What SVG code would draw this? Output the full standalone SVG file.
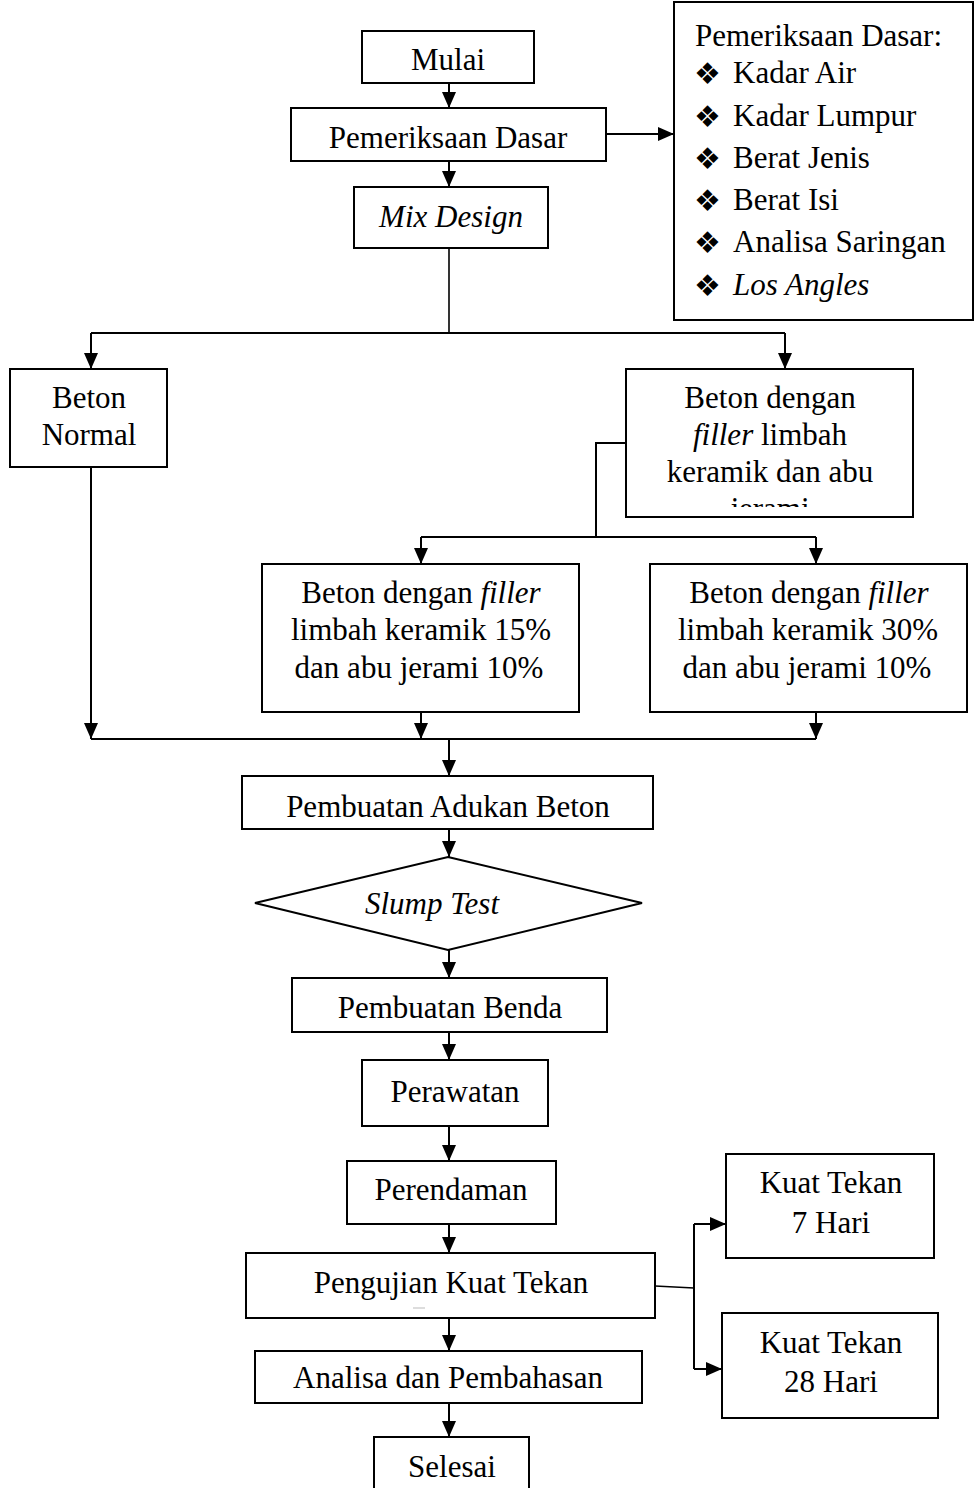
<svg xmlns="http://www.w3.org/2000/svg" width="974" height="1488" viewBox="0 0 974 1488">
<style>
.b{fill:#fff;stroke:#000;stroke-width:2}
.t{font-family:"Liberation Serif","Times New Roman",serif;font-size:31px;fill:#000;text-anchor:middle}
.l{font-family:"Liberation Serif","Times New Roman",serif;font-size:31px;fill:#000}
.bu{font-family:"DejaVu Sans",sans-serif;font-size:30px;fill:#000}
.i{font-style:italic}
.c{fill:none;stroke:#000;stroke-width:2}
</style>
<defs>
<marker id="ah" markerUnits="userSpaceOnUse" markerWidth="17" markerHeight="15" refX="16" refY="7.5" orient="auto" overflow="visible">
<path d="M0,0.5 L16,7.5 L0,14.5 z" fill="#000"/>
</marker>
<clipPath id="clipR"><rect x="626" y="369" width="287" height="138"/></clipPath>
</defs>
<rect width="974" height="1488" fill="#fff"/>

<g id="connectors">
<line class="c" x1="449" y1="83" x2="449" y2="108" marker-end="url(#ah)"/>
<line class="c" x1="606" y1="134" x2="674" y2="134" marker-end="url(#ah)"/>
<line class="c" x1="449" y1="161" x2="449" y2="187" marker-end="url(#ah)"/>
<line class="c" x1="449" y1="248" x2="449" y2="333" style="stroke-width:1.6"/>
<line class="c" x1="91" y1="333" x2="785" y2="333"/>
<line class="c" x1="91" y1="333" x2="91" y2="369" marker-end="url(#ah)"/>
<line class="c" x1="785" y1="333" x2="785" y2="369" marker-end="url(#ah)"/>
<polyline class="c" points="626,443 596,443 596,537"/>
<line class="c" x1="421" y1="537" x2="816" y2="537"/>
<line class="c" x1="421" y1="537" x2="421" y2="564" marker-end="url(#ah)"/>
<line class="c" x1="816" y1="537" x2="816" y2="564" marker-end="url(#ah)"/>
<line class="c" x1="91" y1="467" x2="91" y2="739" marker-end="url(#ah)"/>
<line class="c" x1="421" y1="712" x2="421" y2="739" marker-end="url(#ah)"/>
<line class="c" x1="816" y1="712" x2="816" y2="739" marker-end="url(#ah)"/>
<line class="c" x1="91" y1="739" x2="816" y2="739"/>
<line class="c" x1="449" y1="739" x2="449" y2="776" marker-end="url(#ah)"/>
<line class="c" x1="449" y1="829" x2="449" y2="857" marker-end="url(#ah)"/>
<line class="c" x1="449" y1="950" x2="449" y2="978" marker-end="url(#ah)"/>
<line class="c" x1="449" y1="1032" x2="449" y2="1060" marker-end="url(#ah)"/>
<line class="c" x1="449" y1="1126" x2="449" y2="1161" marker-end="url(#ah)"/>
<line class="c" x1="449" y1="1224" x2="449" y2="1253" marker-end="url(#ah)"/>
<line class="c" x1="449" y1="1318" x2="449" y2="1351" marker-end="url(#ah)"/>
<line class="c" x1="449" y1="1403" x2="449" y2="1437" marker-end="url(#ah)"/>
<line class="c" x1="655" y1="1286" x2="694" y2="1288" style="stroke-width:1.6"/>
<line class="c" x1="694" y1="1224" x2="694" y2="1369"/>
<line class="c" x1="694" y1="1224" x2="726" y2="1224" marker-end="url(#ah)"/>
<line class="c" x1="694" y1="1369" x2="722" y2="1369" marker-end="url(#ah)"/>
</g>

<g id="mulai">
<rect class="b" x="362" y="31" width="172" height="52"/>
<text class="t" x="448" y="70">Mulai</text>
</g>
<g id="pemeriksaan">
<rect class="b" x="291" y="108" width="315" height="53"/>
<text class="t" x="448" y="148">Pemeriksaan Dasar</text>
</g>
<g id="mixdesign">
<rect class="b" x="354" y="187" width="194" height="61"/>
<text class="t i" x="451" y="227">Mix Design</text>
</g>
<g id="daftar">
<rect class="b" x="674" y="2" width="299" height="318"/>
<text class="l" x="695" y="46">Pemeriksaan Dasar:</text>
<text class="bu" x="694" y="84">❖</text><text class="l" x="733" y="83">Kadar Air</text>
<text class="bu" x="694" y="127">❖</text><text class="l" x="733" y="126">Kadar Lumpur</text>
<text class="bu" x="694" y="169">❖</text><text class="l" x="733" y="168">Berat Jenis</text>
<text class="bu" x="694" y="211">❖</text><text class="l" x="733" y="210">Berat Isi</text>
<text class="bu" x="694" y="253">❖</text><text class="l" x="733" y="252">Analisa Saringan</text>
<text class="bu" x="694" y="296">❖</text><text class="l i" x="733" y="295">Los Angles</text>
</g>
<g id="betonnormal">
<rect class="b" x="10" y="369" width="157" height="98"/>
<text class="t" x="89" y="408">Beton</text>
<text class="t" x="89" y="445">Normal</text>
</g>
<g id="betonfiller">
<rect class="b" x="626" y="369" width="287" height="148"/>
<g clip-path="url(#clipR)">
<text class="t" x="770" y="408">Beton dengan</text>
<text class="t" x="770" y="445"><tspan class="i">filler</tspan> limbah</text>
<text class="t" x="770" y="482">keramik dan abu</text>
<text class="t" x="770" y="519">jerami</text>
</g>
</g>
<g id="filler15">
<rect class="b" x="262" y="564" width="317" height="148"/>
<text class="t" x="421" y="603">Beton dengan <tspan class="i">filler</tspan></text>
<text class="t" x="421" y="640">limbah keramik 15%</text>
<text class="t" x="419" y="678">dan abu jerami 10%</text>
</g>
<g id="filler30">
<rect class="b" x="650" y="564" width="317" height="148"/>
<text class="t" x="809" y="603">Beton dengan <tspan class="i">filler</tspan></text>
<text class="t" x="808" y="640">limbah keramik 30%</text>
<text class="t" x="807" y="678">dan abu jerami 10%</text>
</g>
<g id="adukan">
<rect class="b" x="242" y="776" width="411" height="53"/>
<text class="t" x="448" y="817">Pembuatan Adukan Beton</text>
</g>
<g id="slump">
<polygon class="b" points="448,857 642,903 448,950 255,903"/>
<text class="t i" x="432" y="914">Slump Test</text>
</g>
<g id="benda">
<rect class="b" x="292" y="978" width="315" height="54"/>
<text class="t" x="450" y="1018">Pembuatan Benda</text>
</g>
<g id="perawatan">
<rect class="b" x="362" y="1060" width="186" height="66"/>
<text class="t" x="455" y="1102">Perawatan</text>
</g>
<g id="perendaman">
<rect class="b" x="347" y="1161" width="209" height="63"/>
<text class="t" x="451" y="1200">Perendaman</text>
</g>
<g id="pengujian">
<rect class="b" x="246" y="1253" width="409" height="65"/>
<text class="t" x="451" y="1293">Pengujian Kuat Tekan</text>
<line x1="413" y1="1308" x2="425" y2="1308" stroke="#bbb" stroke-width="1"/>
</g>
<g id="analisa">
<rect class="b" x="255" y="1351" width="387" height="52"/>
<text class="t" x="448" y="1388">Analisa dan Pembahasan</text>
</g>
<g id="selesai">
<rect class="b" x="374" y="1437" width="155" height="60"/>
<text class="t" x="452" y="1477">Selesai</text>
</g>
<g id="kt7">
<rect class="b" x="726" y="1154" width="208" height="104"/>
<text class="t" x="831" y="1193">Kuat Tekan</text>
<text class="t" x="831" y="1233">7 Hari</text>
</g>
<g id="kt28">
<rect class="b" x="722" y="1313" width="216" height="105"/>
<text class="t" x="831" y="1353">Kuat Tekan</text>
<text class="t" x="831" y="1392">28 Hari</text>
</g>
</svg>
